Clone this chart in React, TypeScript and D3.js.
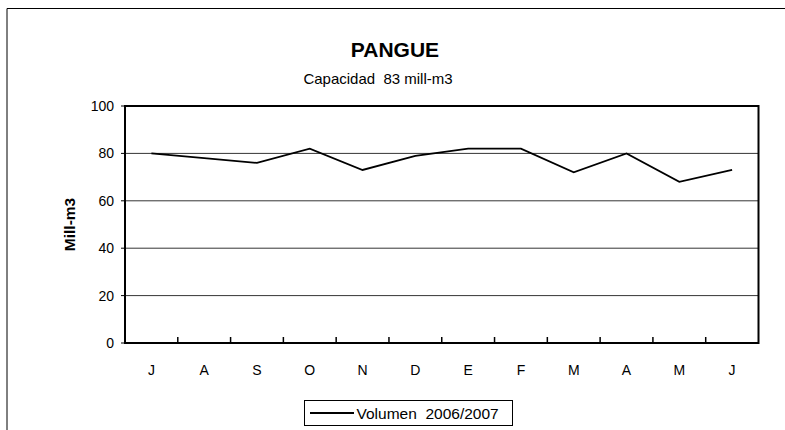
import React from "react";
import * as d3 from "d3";

const months = ["J", "A", "S", "O", "N", "D", "E", "F", "M", "A", "M", "J"];
const volumen = [80, 78, 76, 82, 73, 79, 82, 82, 72, 80, 68, 73];
const yTicks = [0, 20, 40, 60, 80, 100];
const seriesName = "Volumen  2006/2007";
const title = "PANGUE";
const subtitle = "Capacidad  83 mill-m3";
const yLabel = "Mill-m3";

export default function App() {
  const W = 785, H = 430;
  const left = 125, right = 758.5, top = 106, bottom = 343;
  const idx = months.map((_, i) => i);
  const x = d3.scaleBand<number>().domain(idx).range([left, right]).padding(0);
  const y = d3.scaleLinear().domain([0, 100]).range([bottom, top]);
  const line = d3
    .line<number>()
    .x((_, i) => (x(i) as number) + x.bandwidth() / 2)
    .y((d) => y(d));
  const font = "'Liberation Sans', Arial, sans-serif";
  const pre = { whiteSpace: "pre" as const };
  return (
    <svg
      width={W}
      height={H}
      style={{ position: "absolute", left: 0, top: 0, background: "#fff" }}
      fontFamily={font}
    >
      <rect x={0} y={0} width={W} height={H} fill="#fff" />
      <path d={`M7,${H + 2} V8.5 H${W + 2}`} fill="none" stroke="#000" strokeWidth={1} />
      <text x={395} y={57} textAnchor="middle" fontSize={21} fontWeight="bold">
        {title}
      </text>
      <text x={378} y={84} textAnchor="middle" fontSize={15} style={pre}>
        {subtitle}
      </text>
      {yTicks
        .filter((t) => t > 0 && t < 100)
        .map((t) => (
          <line key={t} x1={left} x2={right} y1={y(t)} y2={y(t)} stroke="#000" strokeWidth={0.8} />
        ))}
      {yTicks.map((t) => (
        <g key={"yt" + t}>
          <line x1={left - 4} x2={left} y1={y(t)} y2={y(t)} stroke="#000" strokeWidth={1} />
          <text x={114} y={y(t) + 5} textAnchor="end" fontSize={14}>
            {t}
          </text>
        </g>
      ))}
      {idx.slice(1).map((i) => (
        <line
          key={"xt" + i}
          x1={x(i) as number}
          x2={x(i) as number}
          y1={bottom}
          y2={bottom - 6}
          stroke="#000"
          strokeWidth={1.5}
        />
      ))}
      {months.map((m, i) => (
        <text
          key={"xl" + i}
          x={(x(i) as number) + x.bandwidth() / 2}
          y={375}
          textAnchor="middle"
          fontSize={14}
        >
          {m}
        </text>
      ))}
      <rect x={left} y={top} width={right - left} height={bottom - top} fill="none" stroke="#000" strokeWidth={2} />
      <path d={line(volumen) || ""} fill="none" stroke="#000" strokeWidth={1.8} strokeLinejoin="miter" />
      <text
        transform={`translate(75,${(top + bottom) / 2}) rotate(-90)`}
        textAnchor="middle"
        fontSize={15.5}
        fontWeight="bold"
      >
        {yLabel}
      </text>
      <rect x={304.5} y={400.5} width={208} height={25} fill="#fff" stroke="#000" strokeWidth={1} />
      <line x1={310} x2={354} y1={413} y2={413} stroke="#000" strokeWidth={1.8} />
      <text x={356.5} y={419} fontSize={15.5} style={pre}>
        {seriesName}
      </text>
    </svg>
  );
}
